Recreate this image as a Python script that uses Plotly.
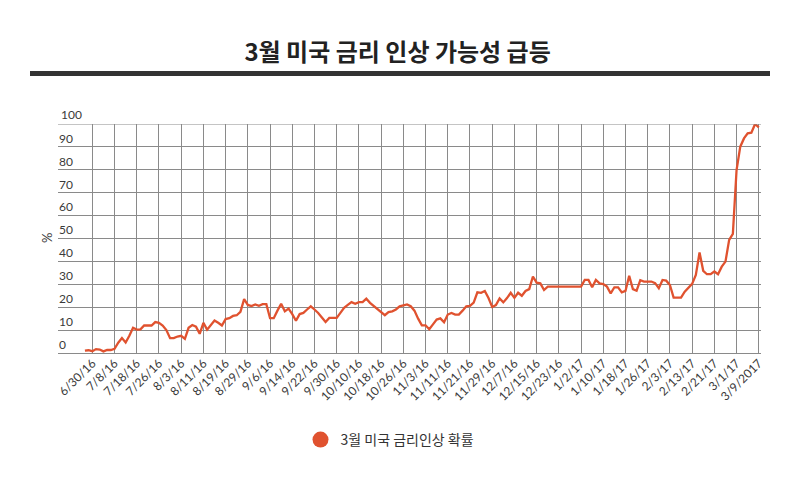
import plotly.graph_objects as go
import pandas as pd

# weekday categories (6/28/16 .. 3/9/17)
dates = pd.bdate_range("2016-06-28", "2017-03-09")
categories = [f"{d.month}/{d.day}/{d.year % 100}" for d in dates]

# probability of a March rate hike (%)
prob = [
    1.0, 1.2, 0.8, 1.7, 1.5, 0.7, 1.3, 1.3, 1.8, 4.5,
    6.5, 4.6, 7.5, 11.0, 10.2, 10.3, 12.0, 12.0, 12.0, 13.5,
    13.2, 12.0, 10.0, 6.5, 6.5, 7.2, 7.5, 6.2, 11.0, 12.2,
    11.5, 8.4, 13.2, 10.2, 12.0, 14.2, 13.2, 12.0, 14.8, 15.2,
    16.2, 16.5, 18.0, 23.5, 21.0, 20.5, 21.2, 20.6, 21.3, 21.3,
    15.2, 15.2, 18.5, 21.5, 18.2, 19.4, 17.0, 14.1, 17.0, 17.5,
    19.0, 20.4, 19.0, 17.5, 15.5, 13.5, 15.3, 15.3, 15.3, 17.5,
    19.7, 21.0, 22.2, 21.5, 22.2, 22.2, 23.7, 21.9, 20.5, 19.3,
    18.0, 16.5, 17.9, 18.2, 19.0, 20.4, 20.8, 21.2, 20.4, 18.5,
    15.0, 12.1, 12.1, 10.4, 12.5, 14.6, 15.1, 13.4, 16.8, 17.5,
    16.8, 16.8, 18.5, 20.4, 20.6, 22.0, 26.5, 26.3, 27.1, 24.0,
    20.1, 20.9, 23.8, 22.1, 24.0, 26.3, 24.1, 26.3, 25.0, 27.1,
    27.9, 33.4, 30.7, 30.4, 27.5, 29.0, 29.0, 29.0, 29.0, 29.0,
    29.0, 29.0, 29.0, 29.0, 29.0, 31.9, 31.9, 28.7, 31.9, 30.4,
    30.1, 29.0, 26.0, 28.7, 28.7, 26.5, 27.1, 33.7, 27.9, 27.2,
    31.8, 31.2, 31.2, 31.2, 30.5, 28.3, 31.9, 31.6, 29.7, 24.2,
    24.2, 24.2, 26.8, 28.3, 30.2, 34.1, 43.9, 35.9, 34.4, 34.4,
    35.6, 34.4, 37.7, 39.9, 49.4, 52.0, 79.9, 90.1, 93.7, 95.9,
    96.2, 100.0, 98.5,
]
assert len(prob) == len(categories)

tick_labels = [
    "6/30/16", "7/8/16", "7/18/16", "7/26/16", "8/3/16", "8/11/16", "8/19/16",
    "8/29/16", "9/6/16", "9/14/16", "9/22/16", "9/30/16", "10/10/16", "10/18/16",
    "10/26/16", "11/3/16", "11/11/16", "11/21/16", "11/29/16", "12/7/16",
    "12/15/16", "12/23/16", "1/2/17", "1/10/17", "1/18/17", "1/26/17", "2/3/17",
    "2/13/17", "2/21/17", "3/1/17", "3/9/2017",
]
tick_vals = categories[2::6]
y_ticks = list(range(0, 101, 10))

series_name = "3월 미국 금리인상 확률"
title_text = "3월 미국 금리 인상 가능성 급등"
color = "#e0522f"

W, H = 800, 479
L, R, T, B = 58, 761, 124, 353
pw, ph = R - L, B - T

fig = go.Figure()
fig.add_trace(go.Scatter(
    x=categories, y=prob, mode="lines",
    line=dict(color=color, width=2.3), showlegend=False,
    hoverinfo="x+y",
))
fig.add_trace(go.Scatter(
    x=[None], y=[None], mode="markers", name=series_name,
    marker=dict(color=color, size=16), showlegend=True,
))

tick_font = dict(family="Lato", size=12, color="#3a3a3a")

fig.update_layout(
    width=W, height=H,
    margin=dict(l=L, r=W - R, t=T, b=H - B, pad=0),
    paper_bgcolor="white", plot_bgcolor="white",
    font=dict(family="Lato, Noto Sans CJK KR", size=12, color="#444"),
    title=dict(
        text=title_text, x=0.497, xanchor="center", y=1 - 53 / H, yanchor="middle",
        font=dict(family="Noto Sans CJK KR", size=24, color="#222", weight="bold"),
    ),
    legend=dict(
        orientation="h", x=(390 - L) / pw, xanchor="center",
        y=(B - 440) / ph, yanchor="middle",
        font=dict(family="Noto Sans CJK KR", size=14, color="#333"),
    ),
    showlegend=True,
)
fig.update_xaxes(
    type="category", range=[-7.27, 182.6],
    tickmode="array", tickvals=tick_vals, ticktext=tick_labels, tickangle=-45,
    showgrid=True, gridcolor="#8a8a8a", gridwidth=1,
    showline=False, zeroline=False, ticks="",
    tickfont=tick_font,
)
fig.update_yaxes(
    range=[0, 100], tickmode="array", tickvals=y_ticks[:-1],
    ticklabelposition="inside top", ticklabelstandoff=-2,
    showgrid=True, gridcolor="#8a8a8a", gridwidth=1,
    zeroline=True, zerolinecolor="#8a8a8a", zerolinewidth=1,
    showline=False, ticks="",
    tickfont=tick_font,
)

# top gridline and its label (inside labels above the plot area are hidden by plotly)
fig.add_shape(
    type="line", xref="paper", yref="y", x0=0, x1=1, y0=y_ticks[-1], y1=y_ticks[-1],
    line=dict(color="#8a8a8a", width=1),
)
fig.add_annotation(
    text=str(y_ticks[-1]), xref="paper", yref="y", x=(59 - L) / pw, xanchor="left",
    y=y_ticks[-1], yanchor="bottom", yshift=0, showarrow=False,
    font=tick_font,
)

# title underline bar
fig.add_shape(
    type="rect", xref="paper", yref="paper",
    x0=(30 - L) / pw, x1=(770 - L) / pw,
    y0=(B - 71) / ph, y1=(B - 76) / ph,
    fillcolor="#333333", line=dict(width=0), layer="above",
)
# y-axis unit
fig.add_annotation(
    text="%", xref="paper", yref="paper",
    x=(44 - L) / pw, y=(B - 238) / ph, showarrow=False, textangle=-90,
    xshift=-7,
    font=dict(family="Lato", size=13, color="#3a3a3a"),
)

fig.write_html("out.html")
